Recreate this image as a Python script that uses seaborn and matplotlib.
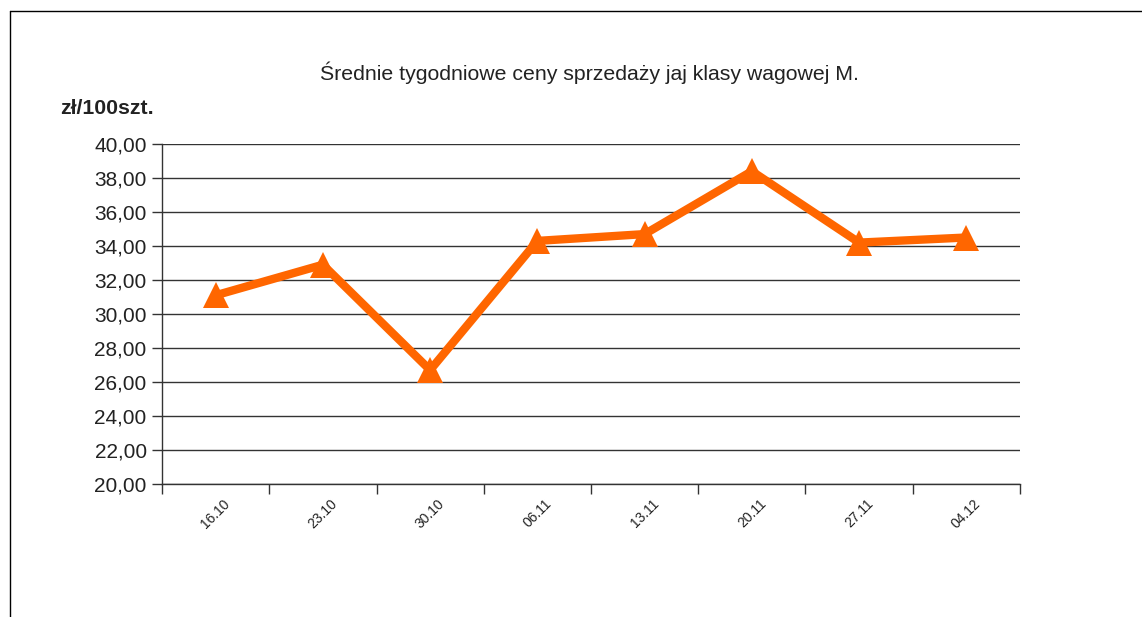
import matplotlib
matplotlib.use("Agg")
import matplotlib.pyplot as plt
from matplotlib.lines import Line2D
import seaborn as sns
import pandas as pd
import numpy as np

# ---- data ----
dates = ["16.10", "23.10", "30.10", "06.11", "13.11", "20.11", "27.11", "04.12"]
prices = [31.1, 32.9, 26.7, 34.3, 34.7, 38.4, 34.2, 34.5]
y_ticks = [20, 22, 24, 26, 28, 30, 32, 34, 36, 38, 40]
title = "Średnie tygodniowe ceny sprzedaży jaj klasy wagowej M."
unit_label = "zł/100szt."

sns.set_theme(style="white")
plt.rcParams["font.family"] = ["Liberation Sans", "DejaVu Sans"]

W, H = 1142, 617
fig = plt.figure(figsize=(W / 100, H / 100), dpi=100)
fig.patch.set_facecolor("white")

left, right, top, bottom = 162, 1020, 144, 484
ax = fig.add_axes([left / W, 1 - bottom / H, (right - left) / W, (bottom - top) / H])
ax.set_facecolor("white")

df = pd.DataFrame({"pos": np.arange(len(dates)), "price": prices})
sns.lineplot(data=df, x="pos", y="price", ax=ax, color="#FF6600", linewidth=6,
             marker="^", markersize=19, markeredgewidth=0, sort=False, zorder=5,
             solid_joinstyle="miter")

ax.set_xlim(-0.5, len(dates) - 0.5)
ax.set_ylim(y_ticks[0], y_ticks[-1])
ax.set_yticks(y_ticks)
ax.set_yticklabels([f"{v:.2f}".replace(".", ",") for v in y_ticks], fontsize=15, color="#222222")

ax.set_xticks(np.arange(len(dates)))
ax.set_xticklabels(dates, rotation=45, fontsize=10, color="#222222", ha="center")
ax.set_xticks(np.arange(len(dates) + 1) - 0.5, minor=True)
ax.tick_params(axis="x", which="major", length=0, pad=9)
ax.tick_params(axis="x", which="minor", length=7, width=1, color="#333333", direction="out", bottom=True)
ax.tick_params(axis="y", which="major", length=7, width=1, color="#333333", direction="out", left=True, pad=4)
for lbl in ax.get_xticklabels():
    lbl.set_x(lbl.get_position()[0])

ax.grid(axis="y", color="#333333", linewidth=1)
ax.grid(axis="x", visible=False)
for side in ["top", "right"]:
    ax.spines[side].set_visible(False)
for side in ["left", "bottom"]:
    ax.spines[side].set_visible(True)
    ax.spines[side].set_color("#333333")
    ax.spines[side].set_linewidth(1)
ax.set_xlabel("")
ax.set_ylabel("")

fig.text(589 / W, 1 - 73 / H, title, ha="center", va="center", fontsize=15.3, color="#222222")
fig.text(60 / W, 1 - 108 / H, unit_label, ha="left", va="center", fontsize=15.3, fontweight="bold", color="#222222")

# outer frame (partially cropped in the reference)
fig.add_artist(Line2D([10 / W, 1.0], [1 - 11 / H, 1 - 11 / H], transform=fig.transFigure, color="black", linewidth=1))
fig.add_artist(Line2D([10 / W, 10 / W], [1 - 11 / H, 0.0], transform=fig.transFigure, color="black", linewidth=1))

fig.savefig("out.png", dpi=100, facecolor="white")
